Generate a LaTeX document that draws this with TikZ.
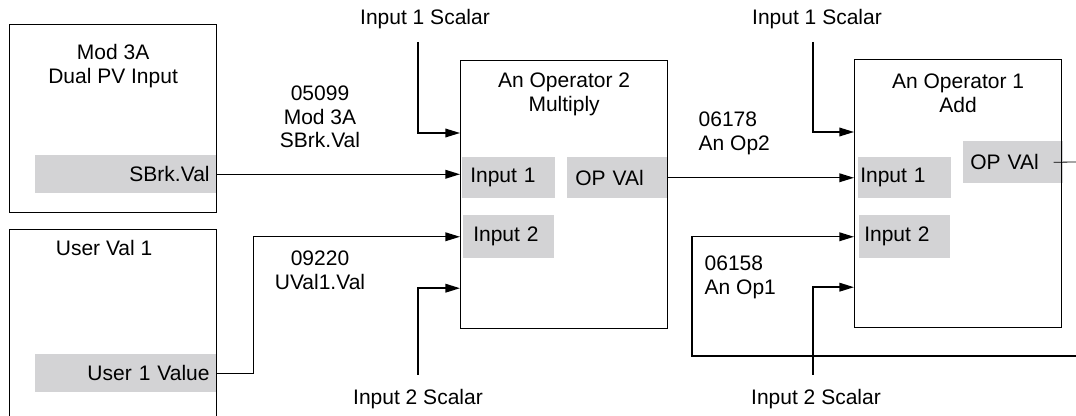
\documentclass[tikz,border=0pt]{standalone}
\usepackage{fontspec}
\setmainfont{Liberation Sans}
\usepackage{xcolor}
\usetikzlibrary{positioning,arrows.meta}
\definecolor{portgray}{RGB}{211,211,213}

\begin{document}
\begin{tikzpicture}[x=0.75pt,y=-0.75pt,font=\fontsize{15.75}{17.8}\selectfont,
  blk/.style={draw,line width=0.9pt,minimum width=155.25pt,anchor=north west,inner sep=0},
  port/.style={fill=portgray,anchor=north west,inner ysep=0,align=left},
  ttl/.style={align=center},
  wire/.style={line width=1.1pt},
  arr/.style={wire,-{Triangle[length=11pt,width=6.5pt]}}]

\useasboundingbox (0,0) rectangle (1076,416);

% grey fields
\node[port,minimum height=28.5pt,text width=125.75pt,inner xsep=5pt,align=right] (sbrk) at (35,155) {SBrk.Val};
\node[port,minimum height=28.5pt,text width=125.75pt,inner xsep=5pt,align=right] (uval) at (35,354) {User 1 Value};
\node[port,minimum height=30.75pt,text width=57.75pt,inner xsep=6pt] (o2in1) at (462,157) {Input 1};
\node[port,minimum height=32.25pt,text width=53.25pt,inner xsep=7.5pt] (o2in2) at (463,215) {Input 2};
\node[port,minimum height=30.75pt,text width=63pt,inner xsep=6pt] (o2op) at (567,157) {OP VAl};
\node[port,minimum height=30.75pt,text width=66.75pt,inner xsep=1.5pt] (o1in1) at (858,157) {Input 1};
\node[port,minimum height=32.25pt,text width=60.75pt,inner xsep=3.75pt] (o1in2) at (859,215) {Input 2};
\node[port,minimum height=31.5pt,text width=64.5pt,inner xsep=5.25pt] (o1op) at (963,141) {OP VAl};

% blocks
\node[blk,minimum height=141pt] (mod) at (9,24) {};
\node[blk,minimum height=150pt] (uv) at (9,229) {};
\node[blk,minimum height=201pt] (op2) at (460,60) {};
\node[blk,minimum height=201pt] (op1) at (854,59) {};

\node[ttl,below=12pt of mod.north] (modttl) {Mod 3A\\Dual PV Input};
\node[ttl,below=5.25pt of uv.north,xshift=-6.75pt] (uvttl) {User Val 1};
\node[ttl,below=6pt of op2.north] (op2ttl) {An Operator 2\\Multiply};
\node[ttl,below=7.5pt of op1.north] (op1ttl) {An Operator 1\\Add};

% wiring
\draw[arr] (sbrk.east) -- (sbrk.east -| op2.west);
\draw[arr] (uval.east) -- ++(37,0) |- (o2in2.west -| op2.west);
\draw[arr] (o2op.east) -- (o2op.east -| op1.west);

\coordinate (fb) at (1076,356);
\draw[arr] (fb) -- ++(-384,0) |- (o1in2.west -| op1.west);

\coordinate (o1out) at (1076,162);
\draw[line width=0.6pt] ([xshift=-7.5pt]o1op.east) -- (o1out);

% scalars
\foreach \b/\x in {op2/418,op1/813}{
  \coordinate (\b s1) at (\x,42);
  \coordinate (\b s2) at (\x,375);
  \draw[arr] (\b s1) |- ([yshift=-54.75pt]\b.north west);
  \draw[arr] (\b s2) |- ([yshift=30.75pt]\b.south west);
}
\node[anchor=base] (s1a) at (425,24.5) {Input 1 Scalar};
\node[anchor=base] (s1b) at (817,24.5) {Input 1 Scalar};
\node[anchor=base] (s2a) at (418,405) {Input 2 Scalar};
\node[anchor=base] (s2b) at (816,405) {Input 2 Scalar};

% tags
\node[ttl,anchor=north] (tag1) at (320,81) {05099\\Mod 3A\\SBrk.Val};
\node[ttl,anchor=north] (tag2) at (320,246) {09220\\UVal1.Val};
\node[align=left,anchor=north west] (tag3) at (694,107) {06178\\An Op2};
\node[align=left,anchor=north west] (tag4) at (700,251) {06158\\An Op1};

\end{tikzpicture}
\end{document}
